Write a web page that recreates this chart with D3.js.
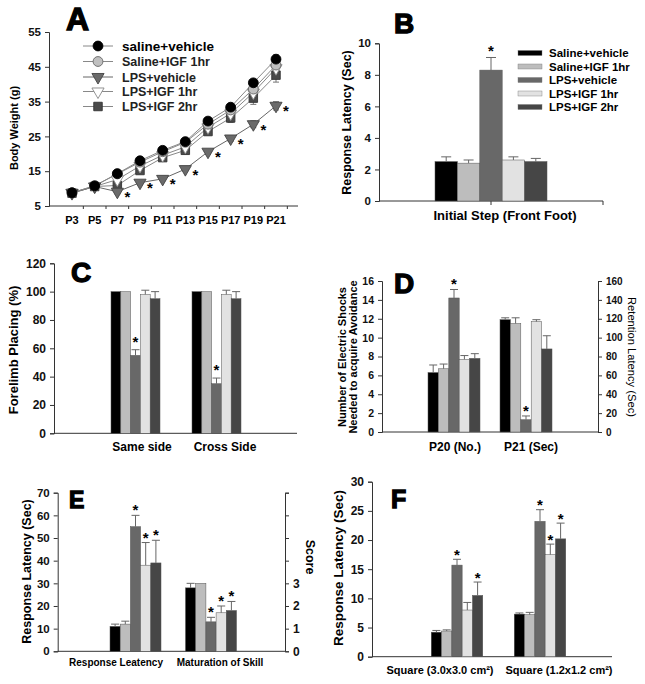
<!DOCTYPE html>
<html>
<head>
<meta charset="utf-8">
<script src="https://cdn.jsdelivr.net/npm/d3@7"></script>
<style>
body { margin: 0; background: #fff; }
svg { display: block; font-family: Arial, "Liberation Sans", sans-serif; }
</style>
</head>
<body>
<svg id="fig" width="645" height="684"></svg>
<script>
// ---- data ----
var groupNames = ["Saline+vehicle", "Saline+IGF 1hr", "LPS+vehicle", "LPS+IGF 1hr", "LPS+IGF 2hr"];
var lineNames = ["saline+vehicle", "Saline+IGF 1hr", "LPS+vehicle", "LPS+IGF 1hr", "LPS+IGF 2hr"];
var groupColors = ["#000000", "#bdbdbd", "#686868", "#e2e2e2", "#464646"];

// A - body weight (g)
var days = ["P3", "P5", "P7", "P9", "P11", "P13", "P15", "P17", "P19", "P21"];
var wSalVeh  = [8.8, 10.8, 14.3, 18.0, 21.0, 23.5, 29.4, 33.4, 40.4, 47.2];
var wSalIgf  = [8.8, 10.8, 14.2, 17.6, 20.6, 23.3, 28.5, 32.6, 38.6, 45.5];
var wLpsVeh  = [8.8, 10.6, 9.1, 11.7, 12.8, 15.6, 20.6, 24.4, 28.5, 33.8];
var wLpsIgf1 = [8.7, 10.6, 12.6, 16.5, 19.6, 22.0, 27.6, 31.6, 37.6, 44.6];
var wLpsIgf2 = [8.7, 10.6, 10.9, 15.2, 18.9, 21.0, 26.4, 30.3, 36.0, 42.6];
var wErrSmall = [0.3, 0.3, 0.6, 0.5, 0.5, 0.5, 0.6, 0.8, 1.0, 1.2];
var wErrLps2  = [0.3, 0.3, 0.9, 0.8, 0.6, 0.7, 0.9, 1.3, 1.8, 2.0];
var starDaysA = ["P7", "P9", "P11", "P13", "P15", "P17", "P19", "P21"];

// B - initial step
var bCats = ["Initial Step (Front Foot)"];
var bMean = [[2.5, 2.4, 8.3, 2.6, 2.5]];
var bErr  = [[0.3, 0.2, 0.8, 0.2, 0.2]];
var bStar = [[2]];

// C - forelimb placing
var cCats = ["Same side", "Cross Side"];
var cMean = [[100, 100, 55, 98, 95], [100, 100, 35, 98, 95]];
var cErr  = [[0, 0, 4, 3, 5], [0, 0, 4, 3, 5]];
var cStar = [[2], [2]];

// D - avoidance (P20 left axis, P21 right axis)
var dCats = ["P20 (No.)", "P21 (Sec)"];
var dMean = [[6.3, 6.7, 14.2, 7.7, 7.8], [119, 115, 13, 117, 88]];
var dErr  = [[0.8, 0.5, 0.9, 0.4, 0.5], [2, 6, 4, 2, 14]];
var dStar = [[2], [2]];

// E - response latency / maturation score
var eCats = ["Response Leatency", "Maturation of Skill"];
var eMean = [[11, 12, 55, 38, 39], [2.8, 3.0, 1.3, 1.7, 1.8]];
var eErr  = [[1, 1.3, 5, 10, 10], [0.2, 0, 0.2, 0.3, 0.4]];
var eStar = [[2, 3, 4], [2, 3, 4]];

// F - squares
var fCats = ["Square (3.0x3.0 cm²)", "Square (1.2x1.2 cm²)"];
var fMean = [[4.2, 4.4, 15.7, 8.0, 10.5], [7.3, 7.2, 23.2, 17.5, 20.2]];
var fErr  = [[0.3, 0.2, 1.0, 1.3, 2.3], [0.2, 0.4, 2.0, 1.8, 2.7]];
var fStar = [[2, 4], [2, 3, 4]];

var svg = d3.select("#fig");
var axisCol = "#333";

function letter(t, x, y, size) {
    svg.append("text").attr("x", x).attr("y", y).text(t)
        .style("font-size", size + "px").style("font-weight", "900")
        .attr("stroke", "#000").attr("stroke-width", 1.3);
}
function vlabel(lines, x, y, size, rot, weight) {
    var t = svg.append("text").attr("transform", "translate(" + x + "," + y + ") rotate(" + rot + ")")
        .attr("text-anchor", "middle").style("font-size", size + "px").style("font-weight", weight || "bold");
    lines.forEach(function (l, i) {
        t.append("tspan").attr("x", 0).attr("dy", i === 0 ? (0.35 - (lines.length - 1) * 0.5) + "em" : "1.0em").text(l);
    });
}
function yAxis(scale, x, ticks, side, size, labelFilter) {
    var ax = (side === "left" ? d3.axisLeft(scale) : d3.axisRight(scale))
        .tickValues(ticks).tickSizeOuter(0).tickSize(4).tickPadding(4)
        .tickFormat(function (d) { return labelFilter && !labelFilter(d) ? "" : d; });
    var g = svg.append("g").attr("transform", "translate(" + x + ",0)").call(ax);
    g.select(".domain").attr("stroke", axisCol);
    g.selectAll(".tick line").attr("stroke", axisCol);
    g.selectAll("text").style("font-size", size + "px").style("font-weight", "bold")
        .attr("fill", "#111").style("font-family", "Arial, 'Liberation Sans', sans-serif");
    return g;
}

// ---------- panel A ----------
(function () {
    var y = d3.scaleLinear().domain([5, 55]).range([206, 32]);
    var x = d3.scalePoint().domain(days).range([72, 276]);
    yAxis(y, 49, d3.range(5, 56, 10), "left", 11.5);
    svg.append("line").attr("x1", 49).attr("x2", 298).attr("y1", 206).attr("y2", 206).attr("stroke", axisCol);
    var step = x.step();
    days.forEach(function (d) {
        svg.append("line").attr("x1", x(d) + step / 2).attr("x2", x(d) + step / 2)
            .attr("y1", 206).attr("y2", 209).attr("stroke", axisCol);
        svg.append("text").attr("x", x(d)).attr("y", 224).attr("text-anchor", "middle")
            .style("font-size", "11px").style("font-weight", "bold").text(d);
    });
    vlabel(["Body Weight (g)"], 14, 128, 11, -90);

    var series = [wSalVeh, wSalIgf, wLpsVeh, wLpsIgf1, wLpsIgf2];
    var errs = [wErrSmall, wErrSmall, wErrSmall, wErrSmall, wErrLps2];
    var line = d3.line().x(function (d, i) { return x(days[i]); }).y(function (d) { return y(d); });
    [4, 3, 2, 1, 0].forEach(function (k) {
        svg.append("path").datum(series[k]).attr("d", line).attr("fill", "none")
            .attr("stroke", k === 2 ? "#666" : "#888").attr("stroke-width", 1);
    });
    [4, 3, 2, 1, 0].forEach(function (k) {
        series[k].forEach(function (v, i) {
            var e = errs[k][i], cx = x(days[i]);
            svg.append("line").attr("x1", cx).attr("x2", cx).attr("y1", y(v - e)).attr("y2", y(v + e)).attr("stroke", "#777");
            [v - e, v + e].forEach(function (w) {
                svg.append("line").attr("x1", cx - 3).attr("x2", cx + 3).attr("y1", y(w)).attr("y2", y(w)).attr("stroke", "#777");
            });
        });
    });
    function marker(g, k, cx, cy) {
        var styles = [
            {t: d3.symbolCircle, s: 76, f: "#000", st: "#000", r: 0},
            {t: d3.symbolCircle, s: 76, f: "#c0c0c0", st: "#666", r: 0},
            {t: d3.symbolTriangle, s: 64, f: "#6a6a6a", st: "#444", r: 180},
            {t: d3.symbolTriangle, s: 64, f: "#fff", st: "#888", r: 180},
            {t: d3.symbolSquare, s: 72, f: "#4a4a4a", st: "#333", r: 0}
        ];
        var s = styles[k];
        g.append("path").attr("d", d3.symbol().type(s.t).size(s.s)())
            .attr("transform", "translate(" + cx + "," + cy + ") rotate(" + s.r + ")")
            .attr("fill", s.f).attr("stroke", s.st).attr("stroke-width", 0.9);
    }
    [4, 3, 2, 1, 0].forEach(function (k) {
        series[k].forEach(function (v, i) { marker(svg, k, x(days[i]), y(v)); });
    });
    starDaysA.forEach(function (d) {
        var i = days.indexOf(d);
        svg.append("text").attr("x", x(d) + 10).attr("y", y(wLpsVeh[i]) + 10.5)
            .attr("text-anchor", "middle").style("font-size", "15px").style("font-weight", "bold").text("*");
    });
    // legend
    var rows = [46, 61.5, 77, 91.5, 106.5];
    lineNames.forEach(function (n, k) {
        svg.append("line").attr("x1", 83).attr("x2", 113).attr("y1", rows[k]).attr("y2", rows[k])
            .attr("stroke", k === 2 ? "#666" : "#888");
        marker(svg, k, 98, rows[k]);
        svg.append("text").attr("x", 122).attr("y", rows[k] + 4.5).text(n)
            .style("font-size", k === 0 ? "13.5px" : "12.5px").style("font-weight", "bold")
            .attr("fill", k === 0 ? "#000" : "#222");
    });
    letter("A", 66, 30, 32);
})();

// ---------- bar panels ----------
function barPanel(o) {
    var y = d3.scaleLinear().domain(o.yDomain).range([o.y0, o.y1]);
    var y2 = o.y2Domain ? d3.scaleLinear().domain(o.y2Domain).range([o.y0, o.y1]) : null;
    var x = d3.scalePoint().domain(o.cats).range(o.xRange).padding(o.xPad || 0);
    var xs = d3.scaleBand().domain(groupNames).range([-o.gw / 2, o.gw / 2]);

    yAxis(y, o.xa, o.yTicks, "left", o.tickSize);
    if (y2) yAxis(y2, o.xb, o.y2Ticks, "right", o.tick2Size, o.y2Label);
    svg.append("line").attr("x1", o.xa).attr("x2", o.xb).attr("y1", o.y0).attr("y2", o.y0).attr("stroke", axisCol);
    (o.xTicks || []).forEach(function (t) {
        svg.append("line").attr("x1", t).attr("x2", t).attr("y1", o.y0).attr("y2", o.y0 + 4).attr("stroke", axisCol);
    });

    o.cats.forEach(function (c, i) {
        var sc = (o.useRight && o.useRight[i]) ? y2 : y;
        o.mean[i].forEach(function (v, j) {
            var bx = x(c) + xs(groupNames[j]), bw = xs.bandwidth(), cx = bx + bw / 2;
            svg.append("rect").attr("x", bx).attr("y", sc(v)).attr("width", bw).attr("height", o.y0 - sc(v))
                .attr("fill", groupColors[j]).attr("stroke", "#555").attr("stroke-width", 0.5);
            var e = o.err[i][j];
            if (e > 0) {
                svg.append("line").attr("x1", cx).attr("x2", cx).attr("y1", sc(v)).attr("y2", sc(v + e))
                    .attr("stroke", "#666").attr("stroke-width", 1);
                svg.append("line").attr("x1", cx - o.cap).attr("x2", cx + o.cap).attr("y1", sc(v + e)).attr("y2", sc(v + e))
                    .attr("stroke", "#666").attr("stroke-width", 1);
            }
            if (o.stars[i].indexOf(j) >= 0) {
                svg.append("text").attr("x", cx).attr("y", sc(v + e) - o.starGap + 10)
                    .attr("text-anchor", "middle").style("font-size", "15px").style("font-weight", "bold").text("*");
            }
        });
        svg.append("text").attr("x", x(c) + o.labelDx[i]).attr("y", o.labelY).attr("text-anchor", "middle")
            .style("font-size", o.labelSize + "px").style("font-weight", "bold").text(c);
    });
}

// B
barPanel({cats: bCats, mean: bMean, err: bErr, stars: bStar,
    yDomain: [0, 10], y0: 201, y1: 43.3, yTicks: d3.range(0, 11, 2), tickSize: 11.5,
    xa: 379, xb: 603, xRange: [379, 603], xPad: 0.5, gw: 112, cap: 5, starGap: 11,
    xTicks: [491, 603], labelDx: [14], labelY: 219.5, labelSize: 13});
vlabel(["Response Latency (Sec)"], 347, 122.5, 12.5, -90);
(function () {
    var rows = [53, 66.5, 80, 93.5, 107];
    groupNames.forEach(function (n, k) {
        svg.append("rect").attr("x", 518).attr("y", rows[k] - 2.5).attr("width", 24).attr("height", 5)
            .attr("fill", groupColors[k]).attr("stroke", "#777").attr("stroke-width", 0.4);
        svg.append("text").attr("x", 549).attr("y", rows[k] + 4).text(n)
            .style("font-size", "11.5px").style("font-weight", "bold");
    });
})();
letter("B", 394, 33, 28);

// C
barPanel({cats: cCats, mean: cMean, err: cErr, stars: cStar,
    yDomain: [0, 120], y0: 433.3, y1: 263.3, yTicks: d3.range(0, 121, 20), tickSize: 12,
    xa: 54, xb: 297, xRange: [135.5, 216.5], gw: 49, cap: 4, starGap: 13,
    labelDx: [6.5, 8.5], labelY: 451, labelSize: 12});
vlabel(["Forelimb Placing (%)"], 13, 350, 13, -90);
letter("C", 71, 282, 28);

// D
barPanel({cats: dCats, mean: dMean, err: dErr, stars: dStar, useRight: [false, true],
    yDomain: [0, 16], y0: 432, y1: 281, yTicks: d3.range(0, 17, 2), tickSize: 10.5,
    y2Domain: [0, 160], y2Ticks: d3.range(0, 161, 20), tick2Size: 10,
    xa: 382, xb: 598, xRange: [454, 526], gw: 52, cap: 4, starGap: 10,
    labelDx: [1, 5], labelY: 451, labelSize: 12});
vlabel(["Number of Electric Shocks", "Needed to acquire Avoidance"], 348, 357, 11, -90);
vlabel(["Retention Latency (Sec)"], 632, 357, 11.2, 90, "normal");
letter("D", 394, 293, 28);

// E
barPanel({cats: eCats, mean: eMean, err: eErr, stars: eStar, useRight: [false, true],
    yDomain: [0, 70], y0: 651.3, y1: 492.7, yTicks: d3.range(0, 71, 10), tickSize: 11.5,
    y2Domain: [0, 7], y2Ticks: d3.range(0, 8, 1), tick2Size: 12,
    y2Label: function (d) { return d <= 3; },
    xa: 57.7, xb: 285, xRange: [135.5, 211], gw: 51, cap: 4, starGap: 10,
    labelDx: [-19.5, 9], labelY: 665.5, labelSize: 10});
vlabel(["Response Latency (Sec)"], 27, 571.5, 12.5, -90);
vlabel(["Score"], 310, 557, 12.5, 90);
letter("E", 69, 508, 23);

// F
barPanel({cats: fCats, mean: fMean, err: fErr, stars: fStar,
    yDomain: [0, 30], y0: 656.7, y1: 481.7, yTicks: d3.range(0, 31, 5), tickSize: 12,
    xa: 372, xb: 612, xRange: [457, 540], gw: 51.5, cap: 4, starGap: 9.5,
    labelDx: [-17, 19], labelY: 674, labelSize: 11});
vlabel(["Response Latency (Sec)"], 338, 568, 13.5, -90);
letter("F", 391, 508, 25);
</script>
</body>
</html>
